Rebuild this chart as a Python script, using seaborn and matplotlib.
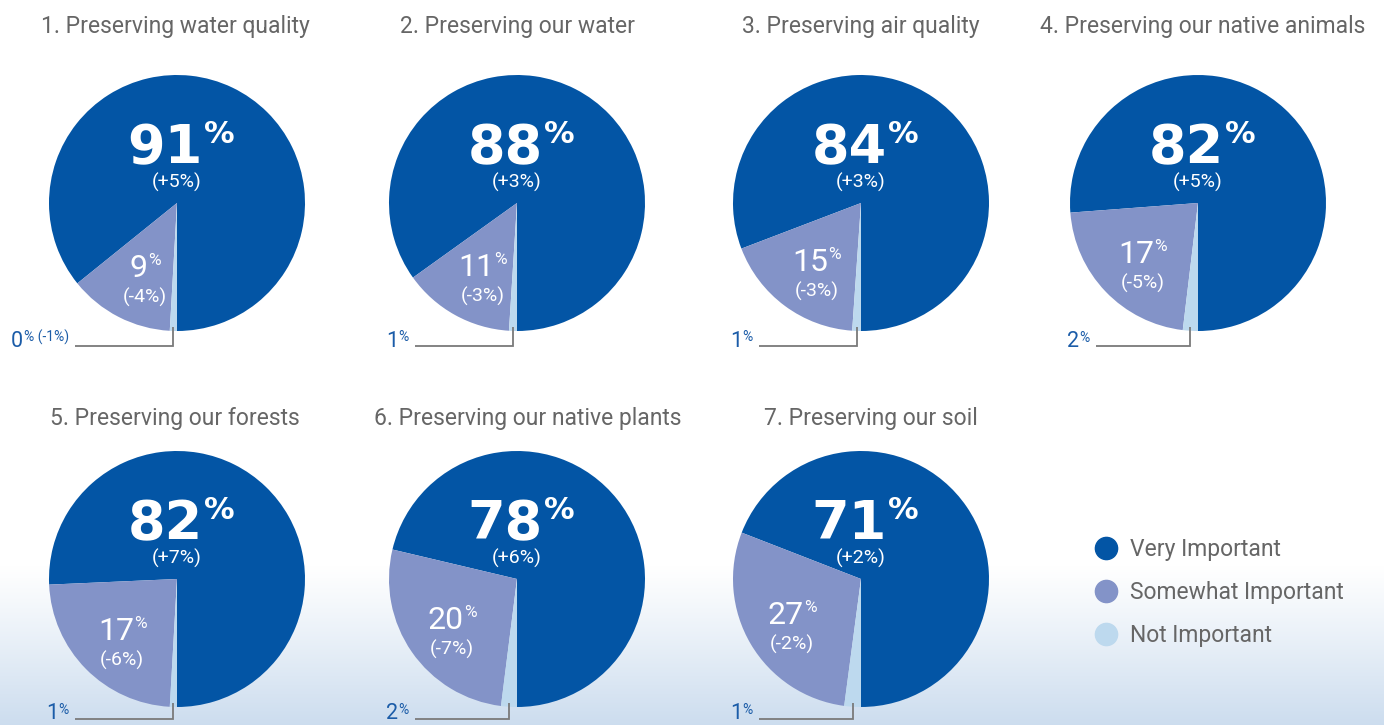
import numpy as np
import matplotlib
matplotlib.use("Agg")
import matplotlib.pyplot as plt
import seaborn as sns
from matplotlib.transforms import Affine2D
from matplotlib.lines import Line2D

# ---------------- data ----------------
titles = ["1. Preserving water quality", "2. Preserving our water",
          "3. Preserving air quality", "4. Preserving our native animals",
          "5. Preserving our forests", "6. Preserving our native plants",
          "7. Preserving our soil"]
categories = ["Very Important", "Somewhat Important", "Not Important"]

# printed percentages
very_important = [91, 88, 84, 82, 82, 78, 71]
somewhat_important = [9, 11, 15, 17, 17, 20, 27]
not_important = [0, 1, 1, 2, 1, 2, 1]
very_change = ["(+5%)", "(+3%)", "(+3%)", "(+5%)", "(+7%)", "(+6%)", "(+2%)"]
somewhat_change = ["(-4%)", "(-3%)", "(-3%)", "(-5%)", "(-6%)", "(-7%)", "(-2%)"]
not_change = ["(-1%)", "", "", "", "", "", ""]

# slice shares as drawn in the picture (percent of the circle)
very_slice = [85.8, 84.9, 80.8, 76.2, 75.7, 71.3, 69.1]
somewhat_slice = [13.3, 14.1, 18.1, 21.9, 23.4, 26.7, 28.8]
not_slice = [0.9, 1.0, 1.1, 1.9, 0.9, 2.0, 2.1]

# ---------------- style ----------------
sns.set_theme(style="white")
plt.rcParams["font.family"] = ["Roboto", "DejaVu Sans"]
colors = sns.color_palette(["#0355A5", "#8393C8", "#BDD9EE"])
title_color = "#666666"
small_blue = "#1B5CA8"
big_family = ["DejaVu Sans"]

W, H = 1384, 725
fig = plt.figure(figsize=(W / 100, H / 100), dpi=100)
fig.patch.set_facecolor("white")
renderer = fig.canvas.get_renderer()

# background gradient
bg = fig.add_axes([0, 0, 1, 1], zorder=0)
rows = np.arange(H)
t = np.clip((rows - 565) / (H - 565), 0, 1) ** 1.1
top_c = np.array([1.0, 1.0, 1.0])
bot_c = np.array([0.80, 0.865, 0.935])
grad = (top_c[None, :] * (1 - t[:, None]) + bot_c[None, :] * t[:, None])
grad = np.repeat(grad[:, None, :], 4, axis=1)
bg.imshow(grad, extent=[0, W, H, 0], aspect="auto")
bg.set_xlim(0, W)
bg.set_ylim(H, 0)
bg.axis("off")

R = 128.0
LIM = 1.6
centers = [(177, 203), (517, 203), (861, 203), (1198, 203),
           (177, 579), (517, 579), (861, 579)]
title_dx = [-2, 0, 0, 5, -2, 11, 10]


def sup_label(ax, x, y, main, sup, main_kw, sup_kw, ha="center", extra_raise=0.0, gap=0.5,
              cap=0.72):
    t1 = ax.text(x, y, main, ha="left", va="baseline", **main_kw)
    t2 = ax.text(x, y, sup, ha="left", va="baseline", **sup_kw)
    w1 = t1.get_window_extent(renderer).width
    w2 = t2.get_window_extent(renderer).width if sup else 0
    total = w1 + gap + w2
    if ha == "center":
        dx = -total / 2
    elif ha == "right":
        dx = -total
    else:
        dx = 0
    m_px = main_kw["fontsize"] * 100 / 72
    s_px = sup_kw["fontsize"] * 100 / 72
    raise_px = cap * (m_px - s_px) + extra_raise
    t1.set_transform(ax.transData + Affine2D().translate(dx, 0))
    t2.set_transform(ax.transData + Affine2D().translate(dx + w1 + gap, raise_px))
    for tt in (t1, t2):
        tt.set_clip_on(False)


for i in range(7):
    cx, cy = centers[i]
    row = 0 if i < 4 else 1
    size = 2 * LIM * R
    ax = fig.add_axes([(cx - size / 2) / W, (H - cy - size / 2) / H, size / W, size / H], zorder=2)
    ax.patch.set_alpha(0)
    drawn = [very_slice[i], somewhat_slice[i], not_slice[i]]
    ax.pie(drawn, colors=colors, startangle=-90, counterclock=True, radius=1,
           wedgeprops=dict(linewidth=0))
    ax.set_xlim(-LIM, LIM)
    ax.set_ylim(-LIM, LIM)
    ax.set_aspect("equal")
    ax.axis("off")

    tot = sum(drawn)
    a0 = -90 + 360 * drawn[0] / tot
    a1 = a0 + 360 * drawn[1] / tot
    a2 = 270.0

    # big label (very important)
    sup_label(ax, 0.03, 0.31, f"{very_important[i]}", "%",
              dict(fontsize=39, color="white", fontweight="bold", family=big_family),
              dict(fontsize=22, color="white", fontweight="bold", family=big_family),
              extra_raise=3, gap=1, cap=0.73)
    ax.text(0, 0.16, very_change[i], ha="center", va="center", fontsize=14, color="white")

    # somewhat label
    mid = np.deg2rad((a0 + a1) / 2 + 5)
    bx, by = 0.66 * np.cos(mid), 0.66 * np.sin(mid)
    sup_label(ax, bx, by + 0.03, f"{somewhat_important[i]}", "%",
              dict(fontsize=23, color="white"), dict(fontsize=12.5, color="white"),
              extra_raise=1.5, gap=0)
    ax.text(bx, by - 0.13, somewhat_change[i], ha="center", va="center", fontsize=14, color="white")

    # not important: leader line + label
    midn = np.deg2rad((a1 + a2) / 2)
    lx = np.cos(midn)
    ly = -1.12 if row == 0 else -1.095
    ax.plot([lx, lx, -0.8], [np.sin(midn) * 0.97, ly, ly], color="#7a7a7a", lw=1.3,
            solid_joinstyle="miter", solid_capstyle="butt", clip_on=False)
    sup_txt = "%" + (" " + not_change[i] if not_change[i] else "")
    sup_label(ax, -0.845, ly - (0.005 if row == 0 else 0.0), f"{not_important[i]}", sup_txt,
              dict(fontsize=15.5, color=small_blue), dict(fontsize=10, color=small_blue),
              ha="right", gap=0.5)

    # title
    fig.text((cx + title_dx[i]) / W, 1 - (32.5 if row == 0 else 424.5) / H, titles[i],
             ha="center", va="baseline", fontsize=16.5, color=title_color)

# legend
handles = [Line2D([], [], marker="o", linestyle="", markersize=16, markerfacecolor=c,
                  markeredgecolor=c) for c in colors]
leg = fig.legend(handles, categories, loc="upper left", bbox_to_anchor=(1085 / W, 1 - 529 / H),
                 frameon=False, fontsize=16.5, labelspacing=0.86, handletextpad=0.55,
                 handlelength=1.0, borderaxespad=0)
for txt in leg.get_texts():
    txt.set_color(title_color)

fig.savefig("out.png", dpi=100)
